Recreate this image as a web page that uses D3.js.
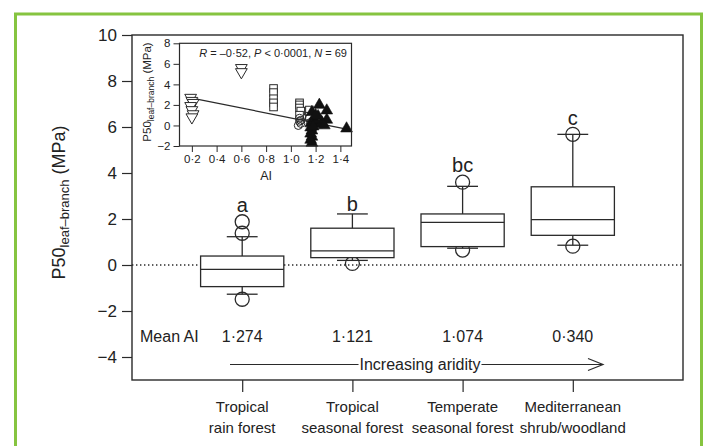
<!DOCTYPE html>
<html><head><meta charset="utf-8">
<script src="https://cdn.jsdelivr.net/npm/d3@7"></script>
<style>
body{margin:0;background:#fff}
text{font-family:"Liberation Sans",Arial,Helvetica,sans-serif;fill:#222}
</style>
</head><body><svg id="c" width="713" height="446"></svg>
<script>
// ---------- main chart data ----------
const categories = [["Tropical","rain forest"],["Tropical","seasonal forest"],["Temperate","seasonal forest"],["Mediterranean","shrub/woodland"]];
const whiskerLow  = [-1.27, 0.20, 0.73, 0.86];
const q1          = [-0.94, 0.32, 0.80, 1.29];
const medians     = [-0.19, 0.61, 1.85, 1.97];
const q3          = [ 0.39, 1.60, 2.22, 3.40];
const whiskerHigh = [ 1.23, 2.22, 3.42, 5.68];
const outliers    = [[1.88, 1.38, -1.49], [0.07], [3.60, 0.65], [5.68, 0.82]];
const groupLetters = ["a","b","bc","c"];
const letterValues = [2.32, 2.36, 4.03, 6.07];
const meanAI = ["1·274","1·121","1·074","0·340"];
const yTicks = [-4,-2,0,2,4,6,8,10];

// ---------- inset data ----------
const medAI   = [0.19,0.20,0.21,0.19,0.20,0.21,0.20,0.60,0.60];
const medP50  = [2.7, 2.4, 2.2, 1.9, 1.5, 1.1, 0.8, 5.6, 5.2];
const tempAI  = [0.86,0.86,0.86,0.86,0.86,1.07,1.07,1.07,1.08,1.07,1.15,1.15];
const tempP50 = [3.6, 3.2, 2.6, 2.2, 1.8, 2.2, 2.0, 1.7, 1.4, 1.0, 1.5, 0.9];
const tsfAI   = [1.07,1.07,1.08,1.06,1.08,1.15,1.16];
const tsfP50  = [0.7, 0.4, 0.2, 0.0, 0.5, 0.7, 0.3];
const trfAI   = [1.23,1.29,1.29,1.17,1.21,1.25,1.19,1.45,1.22,1.27,1.16,1.16,1.17,1.16,1.17,1.16,1.17,1.18,1.20];
const trfP50  = [2.0, 1.45,0.55,1.3, 0.1, 0.3, 0.6,-0.3, 0.9, 0.0, 0.2,-0.2,-0.5,-0.8,-1.1,-1.4,-1.7,-0.1, 1.0];
const fitAI   = [0.2, 1.45];
const fitP50  = [2.67, -0.36];
const insetXTicks = [0.2,0.4,0.6,0.8,1.0,1.2,1.4];
const insetYTicks = [-2,0,2,4,6,8];

const svg = d3.select("#c");
const ink = "#2a2a2a";
const fmtDot = d => d3.format(".1f")(d).replace(".", "·");

// green frame
svg.append("rect").attr("x",15.5).attr("y",14).attr("width",686).attr("height",450)
  .attr("fill","none").attr("stroke","#86c440").attr("stroke-width",3);

// scales
const x = d3.scaleLinear().domain([0,5]).range([132,683]);
const y = d3.scaleLinear().domain([-5,10]).range([380,35]);
const bw = (x(1)-x(0))*0.755;
const capW = (x(1)-x(0))*0.28;

// zero dotted line
svg.append("line").attr("x1",x(0)).attr("x2",x(5)).attr("y1",y(0)).attr("y2",y(0))
  .attr("stroke",ink).attr("stroke-width",1.4).attr("stroke-dasharray","1.4,2.6");

// y axis
const gy = svg.append("g").attr("transform",`translate(${x(0)},0)`)
  .call(d3.axisLeft(y).tickValues(yTicks).tickSize(10).tickPadding(5));
gy.select(".domain").remove();
gy.selectAll("line").attr("stroke",ink).attr("stroke-width",1.2);
gy.selectAll("text").attr("font-size",17).attr("fill",ink).style("font-family","Liberation Sans, Arial, sans-serif");

// x axis ticks
const gx = svg.append("g").attr("transform",`translate(0,${y(-5)})`)
  .call(d3.axisBottom(x).tickValues([1,2,3,4]).tickSize(12).tickFormat(""));
gx.select(".domain").remove();
gx.selectAll("line").attr("stroke",ink).attr("stroke-width",1.2);

// category labels
categories.forEach((c,i)=>{
  const t = svg.append("text").attr("text-anchor","middle").attr("font-size",15).attr("fill",ink);
  t.append("tspan").attr("x",x(i+1)).attr("y",412).text(c[0]);
  t.append("tspan").attr("x",x(i+1)).attr("y",433).text(c[1]);
});

// boxes
const g = svg.append("g");
categories.forEach((c,i)=>{
  const cx = x(i+1);
  outliers[i].forEach(v=>{
    g.append("circle").attr("cx",cx).attr("cy",y(v)).attr("r",7)
      .attr("fill","none").attr("stroke",ink).attr("stroke-width",1.3);
  });
  g.append("line").attr("x1",cx).attr("x2",cx).attr("y1",y(whiskerLow[i])).attr("y2",y(whiskerHigh[i]))
    .attr("stroke",ink).attr("stroke-width",1.3);
  [whiskerLow[i], whiskerHigh[i]].forEach(v=>{
    g.append("line").attr("x1",cx-capW/2).attr("x2",cx+capW/2).attr("y1",y(v)).attr("y2",y(v))
      .attr("stroke",ink).attr("stroke-width",1.3);
  });
  g.append("rect").attr("x",cx-bw/2).attr("width",bw).attr("y",y(q3[i])).attr("height",y(q1[i])-y(q3[i]))
    .attr("fill","#fff").attr("stroke",ink).attr("stroke-width",1.3);
  g.append("line").attr("x1",cx-bw/2).attr("x2",cx+bw/2).attr("y1",y(medians[i])).attr("y2",y(medians[i]))
    .attr("stroke",ink).attr("stroke-width",1.3);
  g.append("text").attr("x",cx).attr("y",y(letterValues[i])).attr("text-anchor","middle")
    .attr("font-size",20).attr("fill",ink).text(groupLetters[i]);
  g.append("text").attr("x",cx).attr("y",341.5).attr("text-anchor","middle")
    .attr("font-size",16).attr("fill",ink).text(meanAI[i]);
});
svg.append("text").attr("x",140).attr("y",341.5).attr("font-size",16).attr("fill",ink).text("Mean AI");

// Increasing aridity arrow
const ay = 364.5;
const at = svg.append("text").attr("x",420).attr("y",ay).attr("dy","0.35em").attr("text-anchor","middle")
  .attr("font-size",16).attr("fill",ink).text("Increasing aridity");
const bb = at.node().getBBox();
svg.append("line").attr("x1",230).attr("x2",bb.x-1).attr("y1",ay).attr("y2",ay).attr("stroke",ink).attr("stroke-width",1.2);
svg.append("line").attr("x1",bb.x+bb.width+1).attr("x2",603).attr("y1",ay).attr("y2",ay).attr("stroke",ink).attr("stroke-width",1.2);
svg.append("path").attr("d",`M${603-15},${ay-6}L603,${ay}L${603-15},${ay+6}`).attr("fill","none").attr("stroke",ink).attr("stroke-width",1.2);

// main frame
svg.append("rect").attr("x",x(0)).attr("y",y(10)).attr("width",x(5)-x(0)).attr("height",y(-5)-y(10))
  .attr("fill","none").attr("stroke",ink).attr("stroke-width",1.4);

// main y title
const yt = svg.append("text").attr("transform",`translate(64.5,202.5) rotate(-90)`).attr("text-anchor","middle")
  .attr("font-size",18).attr("fill",ink);
yt.append("tspan").text("P50");
yt.append("tspan").attr("font-size",13).attr("dy",4).text("leaf–branch");
yt.append("tspan").attr("dy",-4).text(" (MPa)");

// ---------- inset ----------
const ix = d3.scaleLinear().domain([0.1,1.49]).range([179.5,351.5]);
const iy = d3.scaleLinear().domain([-2,8]).range([146,43.3]);
const ig = svg.append("g");
const iyAx = ig.append("g").attr("transform",`translate(${ix(0.1)},0)`)
  .call(d3.axisLeft(iy).tickValues(insetYTicks).tickSize(6).tickPadding(3));
iyAx.select(".domain").remove();
iyAx.selectAll("line").attr("stroke",ink);
iyAx.selectAll("text").attr("font-size",11.5).attr("fill",ink).style("font-family","Liberation Sans, Arial, sans-serif");
const ixAx = ig.append("g").attr("transform",`translate(0,${iy(-2)})`)
  .call(d3.axisBottom(ix).tickValues(insetXTicks).tickSize(6).tickPadding(3).tickFormat(fmtDot));
ixAx.select(".domain").remove();
ixAx.selectAll("line").attr("stroke",ink);
ixAx.selectAll("text").attr("font-size",11.5).attr("fill",ink).style("font-family","Liberation Sans, Arial, sans-serif");

// fit line
ig.append("line").attr("x1",ix(fitAI[0])).attr("y1",iy(fitP50[0])).attr("x2",ix(fitAI[1])).attr("y2",iy(fitP50[1]))
  .attr("stroke",ink).attr("stroke-width",1.2);

// markers
const tri = d3.symbol().type(d3.symbolTriangle).size(60);
medAI.forEach((a,i)=>{
  ig.append("path").attr("d",tri()).attr("transform",`translate(${ix(a)},${iy(medP50[i])}) rotate(180)`)
    .attr("fill","#fff").attr("stroke",ink).attr("stroke-width",1);
});
tempAI.forEach((a,i)=>{
  ig.append("rect").attr("x",ix(a)-3.8).attr("y",iy(tempP50[i])-3.8).attr("width",7.6).attr("height",7.6)
    .attr("fill","#fff").attr("stroke",ink).attr("stroke-width",1);
});
tsfAI.forEach((a,i)=>{
  ig.append("circle").attr("cx",ix(a)).attr("cy",iy(tsfP50[i])).attr("r",4)
    .attr("fill","none").attr("stroke",ink).attr("stroke-width",1);
});
trfAI.forEach((a,i)=>{
  ig.append("path").attr("d",tri()).attr("transform",`translate(${ix(a)},${iy(trfP50[i])})`)
    .attr("fill","#111").attr("stroke","#111").attr("stroke-width",0.6);
});

// inset frame
ig.append("rect").attr("x",ix(0.1)).attr("y",iy(8)).attr("width",ix(1.49)-ix(0.1)).attr("height",iy(-2)-iy(8))
  .attr("fill","none").attr("stroke",ink).attr("stroke-width",1.2);

// inset labels
ig.append("text").attr("x",ix(0.8)).attr("y",180).attr("text-anchor","middle").attr("font-size",12.5).attr("fill",ink).text("AI");
const iyt = ig.append("text").attr("transform",`translate(150.5,92) rotate(-90)`).attr("text-anchor","middle")
  .attr("font-size",11.5).attr("fill",ink);
iyt.append("tspan").text("P50");
iyt.append("tspan").attr("font-size",8.5).attr("dy",3).text("leaf–branch");
iyt.append("tspan").attr("dy",-3).text(" (MPa)");

const ann = ig.append("text").attr("x",347).attr("y",57).attr("text-anchor","end").attr("font-size",11).attr("fill",ink);
ann.append("tspan").attr("font-style","italic").text("R");
ann.append("tspan").text(" = –0·52, ");
ann.append("tspan").attr("font-style","italic").text("P");
ann.append("tspan").text(" < 0·0001, ");
ann.append("tspan").attr("font-style","italic").text("N");
ann.append("tspan").text(" = 69");
</script>
</body></html>
